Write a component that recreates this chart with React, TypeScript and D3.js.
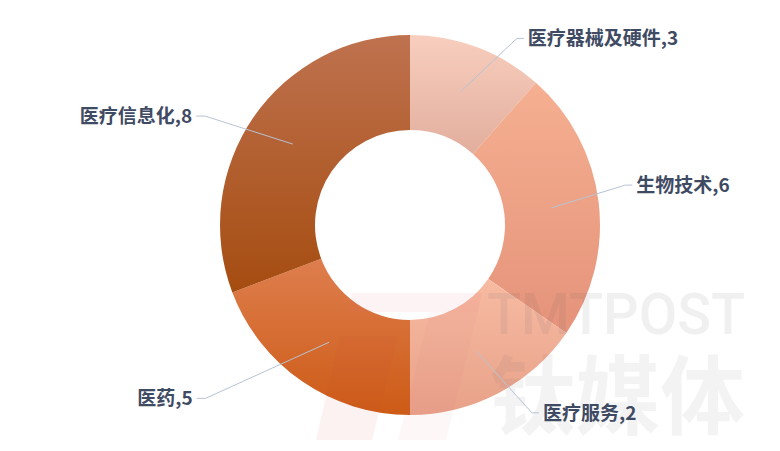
import React from "react";
import * as d3 from "d3";

const categories = ["医疗器械及硬件", "生物技术", "医疗服务", "医药", "医疗信息化"];
// values printed in the labels
const labelValues = [3, 6, 2, 5, 8];
const sliceValues = [3, 6, 4, 5, 8];
const colorTop = ["#f8cebe", "#f5af91", "#f7bba2", "#de7e4e", "#bf724f"];
const colorBottom = ["#e2ae9d", "#e5937a", "#e8a189", "#cd5b16", "#a54c10"];
// label elbow placement (polar: degrees clockwise from 12 o'clock, radius)
const labelElbowAngle = [29.8, 79.5, 147, 229.7, 298];
const labelElbowRadius = [215, 219, 224, 268, 232];

const W = 780;
const H = 451;
const cx = 410;
const cy = 225;
const outerR = 190;
const innerR = 95;

export default function App() {
  const pie = d3
    .pie<number>()
    .sort(null)
    .value((d) => d)
    .startAngle(0)
    .endAngle(2 * Math.PI);
  const arcs = pie(sliceValues);
  const arcGen = d3.arc<d3.PieArcDatum<number>>().innerRadius(innerR).outerRadius(outerR);

  const polar = (aDeg: number, r: number): [number, number] => {
    const a = (aDeg * Math.PI) / 180;
    return [cx + r * Math.sin(a), cy - r * Math.cos(a)];
  };

  return (
    <svg
      width={W}
      height={H}
      style={{ position: "absolute", left: 0, top: 0, background: "#fff" }}
    >
      <defs>
        {categories.map((c, i) => (
          <linearGradient key={c} id={`g${i}`} x1="0" y1="0" x2="0" y2="1">
            <stop offset="0%" stopColor={colorTop[i]} />
            <stop offset="100%" stopColor={colorBottom[i]} />
          </linearGradient>
        ))}
      </defs>
      <g transform={`translate(${cx},${cy})`}>
        {arcs.map((a, i) => (
          <path key={i} d={arcGen(a) || ""} fill={`url(#g${i})`} />
        ))}
      </g>
      {/* watermark */}
      <g pointerEvents="none">
        <path d="M352,293 L482,293 L478,312 L348,312 Z" fill="rgba(225,90,110,0.08)" />
        <path d="M340,336 L398,336 L372,440 L316,440 Z" fill="rgba(200,70,60,0.07)" />
        <path d="M430,312 L478,312 L446,440 L398,440 Z" fill="rgba(225,90,110,0.05)" />
        <text
          x={487}
          y={334}
          textLength={258}
          lengthAdjust="spacingAndGlyphs"
          fontFamily="Roboto, 'Open Sans', sans-serif"
          fontSize={58}
          fontWeight={500}
          fill="rgba(90,90,100,0.09)"
        >
          TMTPOST
        </text>
        <text
          x={490}
          y={428}
          textLength={255}
          lengthAdjust="spacingAndGlyphs"
          fontFamily="'Noto Sans CJK SC', sans-serif"
          fontSize={86}
          fontWeight={700}
          fill="rgba(90,90,100,0.07)"
        >
          钛媒体
        </text>
      </g>
      {arcs.map((a, i) => {
        const mid = ((a.startAngle + a.endAngle) / 2) * (180 / Math.PI);
        const start = polar(mid, (innerR + outerR) / 2);
        const elbow = polar(labelElbowAngle[i], labelElbowRadius[i]);
        const right = elbow[0] > cx;
        const end: [number, number] = [elbow[0] + (right ? 7 : -9), elbow[1]];
        const tx = end[0] + (right ? 4 : -4);
        return (
          <g key={categories[i]}>
            <polyline
              points={[start, elbow, end].map((p) => p.join(",")).join(" ")}
              fill="none"
              stroke="#b7c3d3"
              strokeWidth={1}
            />
            <text
              x={tx}
              y={end[1]}
              dy="0.35em"
              textAnchor={right ? "start" : "end"}
              fontFamily="'Noto Sans CJK SC', 'Noto Sans', sans-serif"
              fontSize={19}
              fontWeight={600}
              fill="#3f4a63"
            >
              {`${categories[i]},${labelValues[i]}`}
            </text>
          </g>
        );
      })}
    </svg>
  );
}
